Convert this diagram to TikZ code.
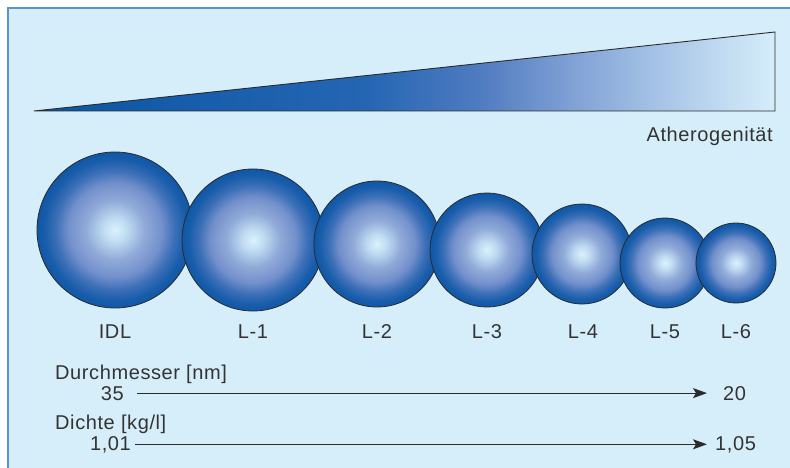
\documentclass[tikz,border=0pt]{standalone}
\usepackage{fontspec}
\setmainfont{Liberation Sans}[LetterSpace=3]
\usetikzlibrary{arrows.meta,positioning}

\definecolor{bgblue}{HTML}{D6EEFA}
\definecolor{frameblue}{HTML}{5B94CD}
\definecolor{deepblue}{HTML}{0F57A6}
\definecolor{paleblue}{HTML}{DAF2FC}
\definecolor{txtgray}{HTML}{333333}
\definecolor{linegray}{HTML}{2B2B2B}

\pgfdeclareradialshading{lipo}{\pgfpoint{0bp}{0bp}}{color(0bp)=(paleblue); color(3.75bp)=(rgb,255:red,192;green,220;blue,242); color(9.5bp)=(rgb,255:red,144;green,170;blue,216); color(15bp)=(rgb,255:red,115;green,144;blue,204); color(19bp)=(rgb,255:red,61;green,112;blue,184); color(22.5bp)=(rgb,255:red,26;green,94;blue,171); color(25bp)=(deepblue); color(50bp)=(deepblue)}
\pgfdeclarehorizontalshading{wedge}{100bp}{color(0bp)=(rgb,255:red,10;green,85;blue,163); color(25bp)=(rgb,255:red,10;green,85;blue,163); color(47.5bp)=(rgb,255:red,37;green,102;blue,179); color(55bp)=(rgb,255:red,79;green,123;blue,192); color(60.5bp)=(rgb,255:red,122;green,156;blue,210); color(66.5bp)=(rgb,255:red,162;green,192;blue,228); color(75bp)=(bgblue); color(100bp)=(bgblue)}

\begin{document}
\begin{tikzpicture}[x=1pt,y=-1pt,
  ball/.style={circle,draw=linegray,line width=.8pt,shading=lipo,inner sep=0pt},
  txt/.style={inner sep=0pt,text=txtgray,font=\fontsize{20}{24}\selectfont},
  arr/.style={draw=linegray,line width=1.2pt,-{Stealth[length=14pt,width=10pt,inset=3pt]}}]
\useasboundingbox (0,0) rectangle (790,468);
\clip (0,0) rectangle (790,468);
% frame
\draw[fill=bgblue,draw=frameblue,line width=1.5pt] (8,8) rectangle (810,490);
% wedge
\draw[shading=wedge,draw=linegray,line width=.9pt] (34,111) -- (775,32) -- (775,111) -- cycle;
\node[txt,anchor=base east] (ath) at (773,142) {Atherogenität};
% particles
\node[ball,minimum size=156pt] (idl) at (115,230) {};
\node[ball,minimum size=142pt] (l1) at (253,240) {};
\node[ball,minimum size=126pt] (l2) at (377,244) {};
\node[ball,minimum size=114pt] (l3) at (487,250) {};
\node[ball,minimum size=100pt] (l4) at (582,254) {};
\node[ball,minimum size=90pt] (l5) at (665,263) {};
\node[ball,minimum size=80pt] (l6) at (736,263) {};
\node[txt,anchor=base] (tidl) at (115,338) {IDL};
\node[txt,anchor=base] (tl1) at (253,338) {L-1};
\node[txt,anchor=base] (tl2) at (377,338) {L-2};
\node[txt,anchor=base] (tl3) at (487,338) {L-3};
\node[txt,anchor=base] (tl4) at (583,338) {L-4};
\node[txt,anchor=base] (tl5) at (665,338) {L-5};
\node[txt,anchor=base] (tl6) at (736,338) {L-6};
% scales
\node[txt,anchor=base west] (dm) at (55,379) {Durchmesser [nm]};
\node[txt,anchor=base east] (d35) at (124,400) {35};
\node[txt,anchor=base west] (d20) at (723,400) {20};
\draw[arr,shorten <=13pt,shorten >=16pt] (d35) -- (d20);
\node[txt,anchor=base west] (di) at (55,429) {Dichte [kg/l]};
\node[txt,anchor=base east] (r101) at (131,450) {1,01};
\node[txt,anchor=base west] (r105) at (715,450) {1,05};
\draw[arr,shorten <=4pt,shorten >=8pt] (r101) -- (r105);
\end{tikzpicture}
\end{document}
